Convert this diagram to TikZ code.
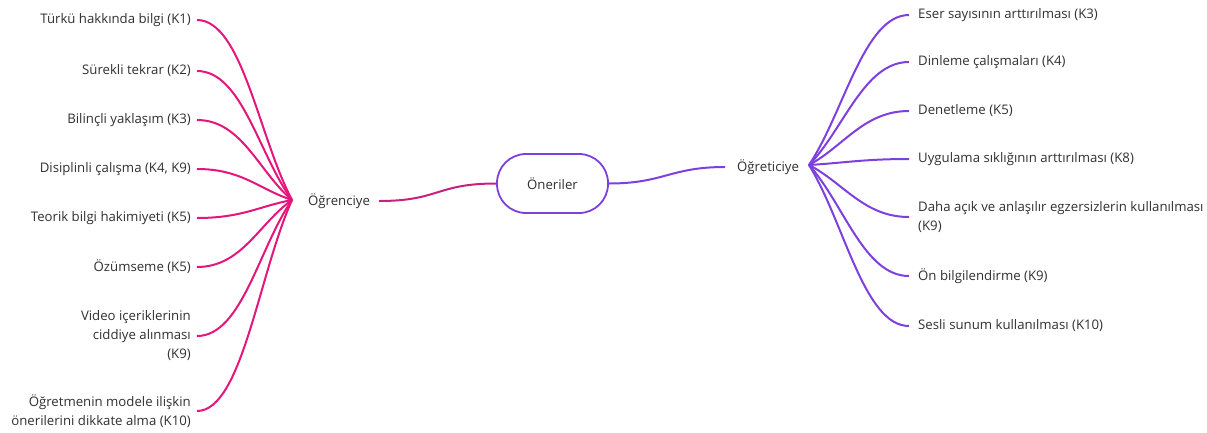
\documentclass[tikz,border=0pt]{standalone}
\usepackage{fontspec}
\setmainfont{Open Sans}
\usetikzlibrary{calc}
\definecolor{pinkc}{HTML}{E4167C}
\definecolor{purpc}{HTML}{7E3FDF}
\definecolor{midc}{HTML}{C8207E}
\definecolor{txt}{HTML}{303030}
\begin{document}
\begin{tikzpicture}[x=1pt,y=-1pt,
  every node/.style={text=txt,font=\fontsize{13.2}{19}\selectfont,inner sep=0pt},
  lleaf/.style={anchor=east,align=right},
  rleaf/.style={anchor=west,align=left},
  lcon/.style={draw=pinkc,line width=2pt},
  rcon/.style={draw=purpc,line width=2pt},
  rootbox/.style={draw=purpc,line width=1.8pt,rounded corners=29pt,minimum width=111pt,minimum height=59pt,inner sep=0pt}]
\useasboundingbox (0,0) rectangle (1207,432);

% central node and the two branch labels
\node[rootbox] (root) at (552.5,183.5) {Öneriler};
\node[anchor=west] (ogr) at (308,201) {Öğrenciye};
\node[anchor=west] (ogt) at (737,167) {Öğreticiye};
\coordinate (hubL) at (292,200);
\coordinate (hubR) at (809,165);

% left leaves
\node[lleaf] (l1) at (191,20) {Türkü hakkında bilgi (K1)};
\node[lleaf] (l2) at (191,71) {Sürekli tekrar (K2)};
\node[lleaf] (l3) at (191,120) {Bilinçli yaklaşım (K3)};
\node[lleaf] (l4) at (191,169) {Disiplinli çalışma (K4, K9)};
\node[lleaf] (l5) at (191,218) {Teorik bilgi hakimiyeti (K5)};
\node[lleaf] (l6) at (191,267) {Özümseme (K5)};
\node[lleaf] (l7) at (191,336) {Video içeriklerinin\\ciddiye alınması\\(K9)};
\node[lleaf] (l8) at (191,411) {Öğretmenin modele ilişkin\\önerilerini dikkate alma (K10)};

% right leaves
\node[rleaf] (r1) at (918,15) {Eser sayısının arttırılması (K3)};
\node[rleaf] (r2) at (918,62) {Dinleme çalışmaları (K4)};
\node[rleaf] (r3) at (918,111) {Denetleme (K5)};
\node[rleaf] (r4) at (918,159) {Uygulama sıklığının arttırılması (K8)};
\node[rleaf] (r5) at (918,217) {Daha açık ve anlaşılır egzersizlerin kullanılması\\(K9)};
\node[rleaf] (r6) at (918,276) {Ön bilgilendirme (K9)};
\node[rleaf] (r7) at (918,326) {Sesli sunum kullanılması (K10)};

% trunk connectors
\draw[draw=midc,line width=2pt] ([xshift=9pt]ogr.east) .. controls +(60,0) and +(-60,0) .. (root.west);
\draw[rcon] (root.east) .. controls +(55,0) and +(-55,0) .. ([xshift=-12pt]ogt.west);

% left fan
\foreach \n in {l1,l2,l3,l4,l5,l6,l7,l8}{
  \draw[lcon] ([xshift=6pt]\n.east) .. controls +(45,0) and ($(hubL)!0.35!([xshift=6pt]\n.east)$) .. (hubL);
}
% right fan
\foreach \n in {r1,r2,r3,r4,r5,r6,r7}{
  \draw[rcon] (hubR) .. controls ($(hubR)!0.35!([xshift=-9pt]\n.west)$) and +(-45,0) .. ([xshift=-9pt]\n.west);
}
\end{tikzpicture}
\end{document}
